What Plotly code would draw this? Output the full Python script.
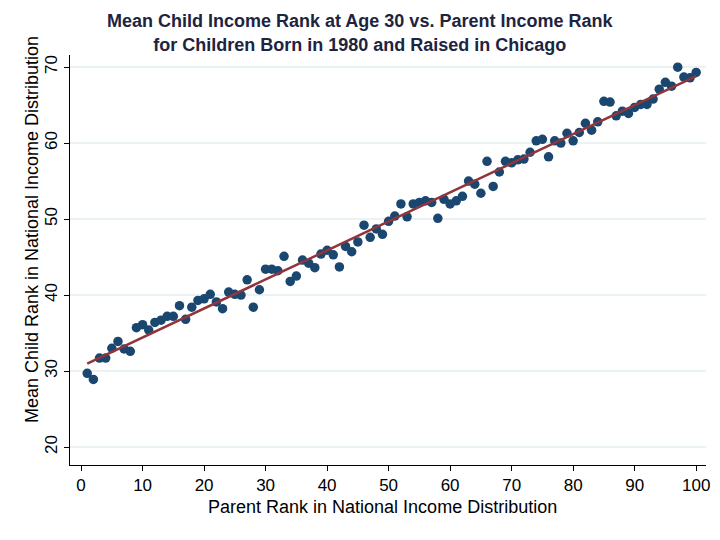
import numpy as np
import plotly.graph_objects as go

parent_rank = list(range(1, 101))
child_rank = [
    29.7, 28.9, 31.7, 31.7, 33.0, 33.9, 32.9, 32.6, 35.7, 36.1,
    35.4, 36.4, 36.7, 37.2, 37.2, 38.6, 36.8, 38.4, 39.3, 39.5,
    40.1, 39.1, 38.2, 40.4, 40.1, 40.0, 42.0, 38.4, 40.7, 43.4,
    43.4, 43.2, 45.1, 41.8, 42.5, 44.6, 44.2, 43.6, 45.4, 45.9,
    45.3, 43.7, 46.4, 45.7, 47.0, 49.2, 47.6, 48.7, 48.0, 49.7,
    50.4, 52.0, 50.3, 52.0, 52.2, 52.4, 52.2, 50.1, 52.6, 52.0,
    52.4, 53.0, 55.0, 54.6, 53.4, 57.6, 54.3, 56.2, 57.6, 57.4,
    57.8, 57.9, 58.8, 60.3, 60.5, 58.2, 60.3, 60.0, 61.3, 60.3,
    61.4, 62.6, 61.7, 62.8, 65.5, 65.4, 63.6, 64.2, 63.9, 64.7,
    65.1, 65.1, 65.8, 67.1, 68.0, 67.5, 70.0, 68.7, 68.6, 69.3,
]
x_ticks = [0, 10, 20, 30, 40, 50, 60, 70, 80, 90, 100]
y_ticks = [20, 30, 40, 50, 60, 70]

title_text = ("Mean Child Income Rank at Age 30 vs. Parent Income Rank<br>"
              "for Children Born in 1980 and Raised in Chicago")
x_title = "Parent Rank in National Income Distribution"
y_title = "Mean Child Rank in National Income Distribution"

slope, intercept = np.polyfit(parent_rank, child_rank, 1)
fit_x = [min(parent_rank), max(parent_rank)]
fit_y = [intercept + slope * v for v in fit_x]

fig = go.Figure()
fig.add_trace(go.Scatter(
    x=parent_rank, y=child_rank, mode="markers",
    marker=dict(color="#1a476f", size=9.5, line=dict(width=0)),
    showlegend=False,
))
fig.add_trace(go.Scatter(
    x=fit_x, y=fit_y, mode="lines",
    line=dict(color="#90353b", width=2.5),
    showlegend=False,
))

font = "Liberation Sans, Arial, sans-serif"
fig.update_layout(
    width=712, height=532,
    paper_bgcolor="white", plot_bgcolor="white",
    margin=dict(l=62, r=14, t=47, b=75, autoexpand=False),
    title=dict(text="<b>" + title_text + "</b>", x=0.494, xanchor="center",
               xref="container", yref="container",
               y=0.964, yanchor="middle",
               font=dict(family=font, size=18, color="#1e2440")),
    xaxis=dict(
        range=[-1.8, 101.6], tickvals=x_ticks, showgrid=False, zeroline=False,
        showline=True, linecolor="black", linewidth=1, automargin=False,
        ticks="outside", ticklen=5, tickcolor="black",
        tickfont=dict(family=font, size=17, color="black"),
    ),
    yaxis=dict(
        range=[17.63, 71.6], tickvals=y_ticks, showgrid=True, gridcolor="#eaf2f3",
        gridwidth=2, zeroline=False, automargin=False,
        showline=True, linecolor="black", linewidth=1,
        ticks="outside", ticklen=5, tickcolor="black", tickangle=-90,
        tickfont=dict(family=font, size=17, color="black"),
    ),
    annotations=[
        dict(text=x_title, xref="paper", yref="paper", x=0.492, y=-0.1035,
             xanchor="center", yanchor="middle", showarrow=False,
             font=dict(family=font, size=18, color="black")),
        dict(text=y_title, xref="paper", yref="paper", x=-0.0597, y=0.573,
             xanchor="center", yanchor="middle", showarrow=False, textangle=-90,
             font=dict(family=font, size=18, color="black")),
    ],
)

fig.write_html("out.html")
